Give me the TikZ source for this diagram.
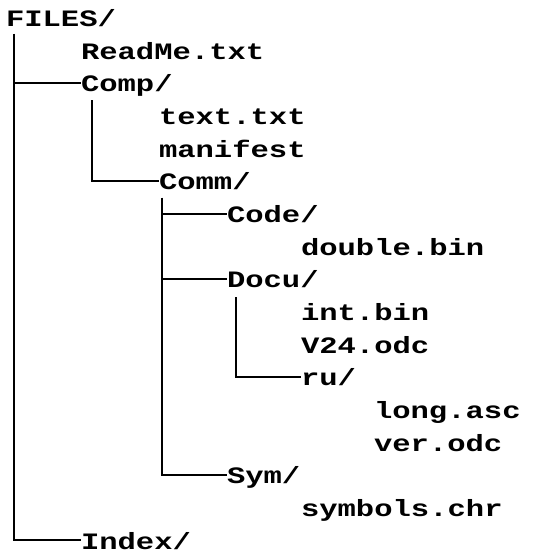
\documentclass[tikz,border=0pt]{standalone}
\usepackage{fontspec}
\newfontfamily\treefont{Liberation Mono}[FakeStretch=1.3]

\tikzset{
    entry/.style={anchor=base west, inner sep=0pt, outer sep=0pt,
        text height=18bp, text depth=0pt,
        font=\treefont\bfseries\fontsize{23.5bp}{25bp}\selectfont},
    branch/.style={line width=1.8bp},
}

\begin{document}
\begin{tikzpicture}[x=1bp, y=-1bp]
    \useasboundingbox (0,0) rectangle (546,554);
    % one row per entry: name / column / text
    \foreach \name/\col/\txt [count=\r from 0] in {
            files/6/FILES\slash, readme/81/ReadMe.txt, comp/81/Comp\slash,
            texttxt/159/text.txt, manifest/159/manifest, comm/159/Comm\slash,
            code/227/Code\slash, double/301/double.bin, docu/227/Docu\slash,
            intbin/301/int.bin, vtf/301/V24.odc, ru/301/ru\slash,
            long/374/long.asc, ver/374/ver.odc, sym/227/Sym\slash,
            symbols/301/symbols.chr, index/81/Index\slash} {
        \node[entry] (\name) at (\col, 26.7+32.65*\r) {\txt};
    }
    % stems under the folders
    \coordinate (files-stem) at (14, 34);
    \coordinate (comp-stem) at (92, 100.5);
    \coordinate (comm-stem) at (162, 198);
    \coordinate (docu-stem) at (236, 297);
    \draw[branch] (files-stem) |- (comp.west);
    \draw[branch] (files-stem) |- (index.west);
    \draw[branch] (comp-stem) |- (comm.west);
    \foreach \kid in {code, docu, sym}
        \draw[branch] (comm-stem) |- (\kid.west);
    \draw[branch] (docu-stem) |- (ru.west);
\end{tikzpicture}
\end{document}
